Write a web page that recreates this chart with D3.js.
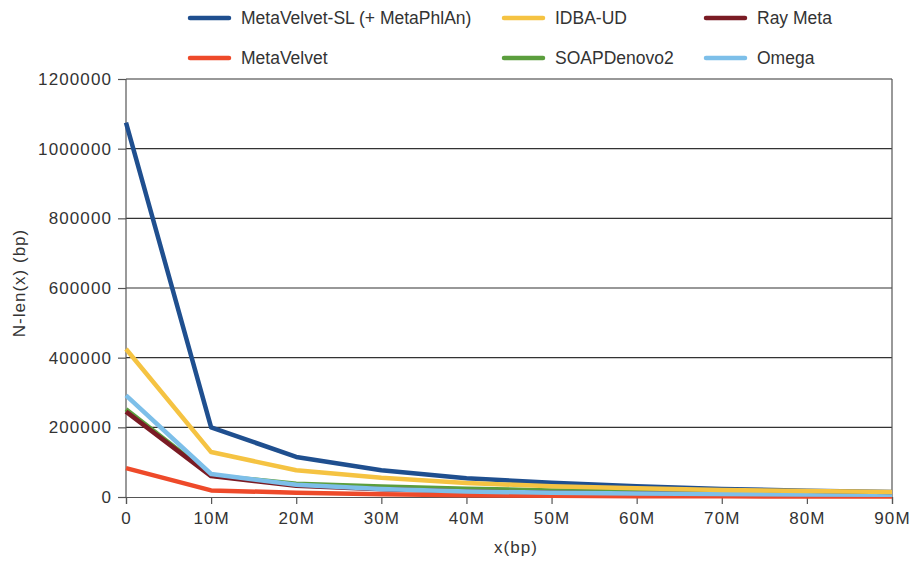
<!DOCTYPE html>
<html><head><meta charset="utf-8">
<script src="https://cdn.jsdelivr.net/npm/d3@7"></script>
<style>body{margin:0;background:#fff}svg{display:block}text{font-family:"Liberation Sans",Arial,sans-serif;fill:#333}</style>
</head><body><svg id="c" width="911" height="565"></svg>
<script>
const xValues = [0, 10e6, 20e6, 30e6, 40e6, 50e6, 60e6, 70e6, 80e6, 90e6];
const xTickLabels = ["0","10M","20M","30M","40M","50M","60M","70M","80M","90M"];
const yTicks = [0,200000,400000,600000,800000,1000000,1200000];
const seriesNames = ["MetaVelvet-SL (+ MetaPhlAn)","IDBA-UD","Ray Meta","MetaVelvet","SOAPDenovo2","Omega"];
const metaVelvetSL = [1075000,200000,115000,77000,54000,41000,31000,23000,18000,14000];
const idbaUD =       [425000,129000,77000,55000,40000,31000,25000,20000,17000,14000];
const rayMeta =      [245000,60000,32000,22000,16000,12000,10000,8500,7500,6500];
const metaVelvet =   [83000,19000,12000,8000,5000,3500,2500,2000,1500,1200];
const soapDenovo2 =  [252000,62000,38000,30000,24000,19000,16000,13500,11500,10000];
const omega =        [292000,66000,35000,23000,16000,12000,10000,8500,7500,6500];
const colors = ["#1f4f8f","#f5c342","#7a1b24","#ee4a2a","#5b9e3d","#7dbfe9"];
const seriesData = [metaVelvetSL, idbaUD, rayMeta, metaVelvet, soapDenovo2, omega];
const drawOrder = [4,2,3,5,0,1];

const svg = d3.select("#c");
const x = d3.scaleLinear().domain([0,90e6]).range([126,892]);
const y = d3.scaleLinear().domain([0,1200000]).range([497,79]);

svg.append("g").selectAll("line").data(yTicks.slice(1)).join("line")
  .attr("x1",126).attr("x2",892).attr("y1",d=>y(d)).attr("y2",d=>y(d))
  .attr("stroke","#333").attr("stroke-width",1.2);
svg.append("line").attr("x1",892).attr("x2",892).attr("y1",79).attr("y2",497).attr("stroke","#555").attr("stroke-width",1.2);

const yAxis = d3.axisLeft(y).tickValues(yTicks).tickFormat(d3.format("d")).tickSize(8).tickPadding(7);
const gy = svg.append("g").attr("transform","translate(126,0)").call(yAxis);
const xAxis = d3.axisBottom(x).tickValues(xValues).tickFormat((d,i)=>xTickLabels[i]).tickSize(7).tickPadding(8);
const gx = svg.append("g").attr("transform","translate(0,497)").call(xAxis);
[gy,gx].forEach(g=>{
  g.select(".domain").attr("stroke","#555").attr("stroke-width",1.2);
  g.selectAll(".tick line").attr("stroke","#555").attr("stroke-width",1.2);
  g.selectAll(".tick text").attr("font-size",17).attr("letter-spacing","1.1px").attr("fill","#333").attr("font-family","Liberation Sans, Arial, sans-serif");
});
gy.selectAll(".tick text").attr("dx","1px");
gy.select(".domain").attr("d","M0,79V497");

const line = d3.line().x((d,i)=>x(xValues[i])).y(d=>y(d));
drawOrder.forEach(k=>{
  svg.append("path").datum(seriesData[k]).attr("d",line).attr("fill","none")
    .attr("stroke",colors[k]).attr("stroke-width",4.5).attr("stroke-linejoin","round");
});

svg.append("text").attr("transform","translate(25,283) rotate(-90)").attr("text-anchor","middle").attr("font-size",17).attr("letter-spacing","1px").text("N-len(x) (bp)");
svg.append("text").attr("x",516).attr("y",553).attr("text-anchor","middle").attr("font-size",17).attr("letter-spacing","1.1px").text("x(bp)");

const legPos = [[190,18],[504,18],[706,18],[190,58],[504,58],[706,58]];
seriesNames.forEach((n,i)=>{
  const [lx,ly] = legPos[i];
  svg.append("line").attr("x1",lx).attr("x2",lx+39).attr("y1",ly).attr("y2",ly)
    .attr("stroke",colors[i]).attr("stroke-width",4.5).attr("stroke-linecap","round");
  svg.append("text").attr("x",lx+51).attr("y",ly+6).attr("font-size",17.5).text(n);
});
</script></body></html>
